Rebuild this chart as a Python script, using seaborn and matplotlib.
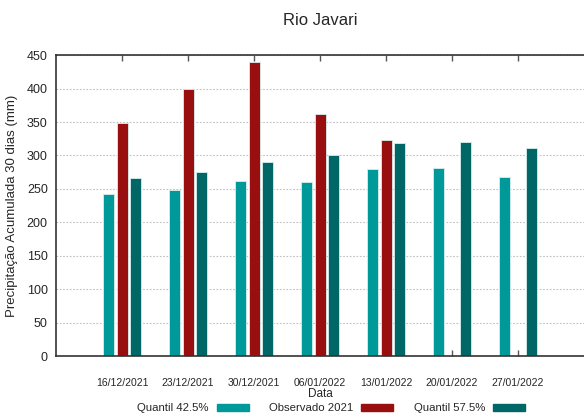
import numpy as np
import pandas as pd
import seaborn as sns
import matplotlib.pyplot as plt

# values
datas = ["16/12/2021", "23/12/2021", "30/12/2021", "06/01/2022", "13/01/2022", "20/01/2022", "27/01/2022"]
quantil_425 = [243, 249, 262, 261, 280, 281, 268]
observado_2021 = [348, 399, 440, 362, 323, np.nan, np.nan]
quantil_575 = [267, 276, 291, 300, 318, 320, 311]

series = ["Quantil 42.5%", "Observado 2021", "Quantil 57.5%"]
cores = ["#009999", "#990e0e", "#006666"]

df = pd.DataFrame({
    "Data": datas * 3,
    "valor": quantil_425 + observado_2021 + quantil_575,
    "serie": [s for s in series for _ in datas],
})

sns.set_style("white")
plt.rcParams['font.family'] = ['Liberation Sans Narrow', 'Liberation Sans', 'DejaVu Sans']

fig = plt.figure(figsize=(5.84, 4.15), dpi=100)
ax = fig.add_axes([0.096, 0.142, 0.904, 0.725])

sns.barplot(data=df, x="Data", y="valor", hue="serie", hue_order=series,
            palette=cores, order=datas, width=0.6, gap=0.17, saturation=1,
            edgecolor="#d8eeee", linewidth=0.6, ax=ax, legend=False)

ax.set_xlim(-1, 7)
ax.set_ylim(0, 450)
ax.set_yticks(range(0, 451, 50))
ax.yaxis.grid(True, linestyle=(0, (1.5, 1.5)), color="#c0c0c0", linewidth=0.8)
ax.set_axisbelow(True)

ax.tick_params(axis="x", direction="in", top=True, bottom=True, length=4,
               width=1, color="#555555", labelsize=7.5, pad=16)
ax.tick_params(axis="y", length=0, labelsize=9, pad=6)

for side in ["left", "top", "bottom"]:
    ax.spines[side].set_color("#333333")
    ax.spines[side].set_linewidth(1.2)
ax.spines["right"].set_visible(False)

ax.set_xlabel("Data", fontsize=8.5, labelpad=0)
ax.set_ylabel("Precipitação Acumulada 30 dias (mm)", fontsize=9.5, labelpad=6)
ax.set_title("Rio Javari", fontsize=12, pad=22)

handles = [plt.Rectangle((0, 0), 1, 1, color=c) for c in cores]
fig.legend(handles, series, loc="center", bbox_to_anchor=(0.567, 0.016),
           ncol=3, frameon=False, markerfirst=False, fontsize=8.2,
           handlelength=2.8, handleheight=0.6, columnspacing=1.8, handletextpad=0.7,
           borderpad=0, borderaxespad=0)

fig.savefig("out.png", dpi=100)
